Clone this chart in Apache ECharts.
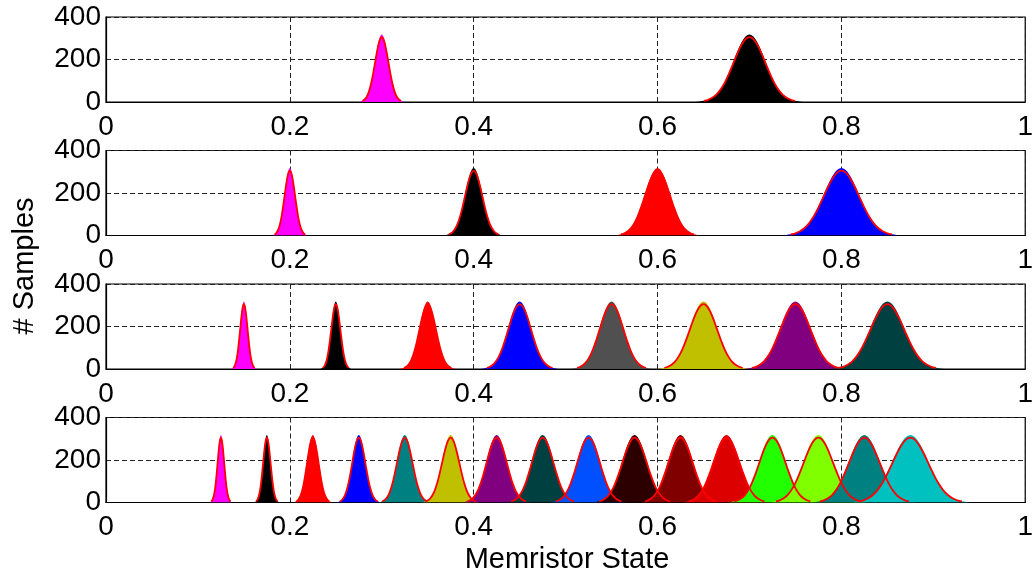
<!DOCTYPE html>
<html>
<head>
<meta charset="utf-8">
<script src="https://cdn.jsdelivr.net/npm/echarts@6/dist/echarts.min.js"></script>
<style>
html,body{margin:0;padding:0;background:#fff;}
#c{width:1036px;height:575px;}
</style>
</head>
<body>
<div id="c"></div>
<script>
// ---- data ----
// peak centres (memristor state) and half-base widths per subplot
const centers1 = [0.3, 0.7];
const widths1  = [0.019, 0.045];
const centers2 = [0.2, 0.4, 0.6, 0.8];
const widths2  = [0.015, 0.0246, 0.036, 0.050];
const centers3 = [0.15, 0.25, 0.35, 0.45, 0.55, 0.65, 0.75, 0.85];
const widths3  = [0.0106, 0.013, 0.0234, 0.0324, 0.034, 0.0387, 0.043, 0.048];
const centers4 = [0.125, 0.175, 0.225, 0.275, 0.325, 0.375, 0.425, 0.475,
                  0.525, 0.575, 0.625, 0.675, 0.725, 0.775, 0.825, 0.875];
const widths4  = [0.0094, 0.0106, 0.0164, 0.0187, 0.0222, 0.0246, 0.029, 0.031,
                  0.0324, 0.035, 0.035, 0.0375, 0.0375, 0.042, 0.044, 0.051];
// peak heights (# samples)
const histPeak = 318;
const fitPeak = 305;
// shape of a peak: relative height at offsets (in half-base units)
const histOffsets = [-1.3, -1.2, -1.1, -1, -0.9, -0.8, -0.7, -0.6, -0.5, -0.4, -0.3, -0.2, -0.1, 0,
                     0.1, 0.2, 0.3, 0.4, 0.5, 0.6, 0.7, 0.8, 0.9, 1, 1.1, 1.2, 1.3];
const histProfile = [0, 0.008, 0.017, 0.034, 0.065, 0.115, 0.191, 0.296, 0.43, 0.582, 0.737, 0.873, 0.967, 1,
                     0.967, 0.873, 0.737, 0.582, 0.43, 0.296, 0.191, 0.115, 0.065, 0.034, 0.017, 0.008, 0];
const fitOffsets = [-1.1, -1, -0.9, -0.8, -0.7, -0.6, -0.5, -0.4, -0.3, -0.2, -0.1, 0,
                    0.1, 0.2, 0.3, 0.4, 0.5, 0.6, 0.7, 0.8, 0.9, 1, 1.1];
const fitProfile = [0.017, 0.034, 0.065, 0.115, 0.191, 0.296, 0.43, 0.582, 0.737, 0.873, 0.967, 1,
                    0.967, 0.873, 0.737, 0.582, 0.43, 0.296, 0.191, 0.115, 0.065, 0.034, 0.017];
// axis ticks
const xTicks = [0, 0.2, 0.4, 0.6, 0.8, 1];
const yTicks = [0, 200, 400];

// ---- styles ----
const colors1 = ['#FF00FF', '#000000'];
const colors2 = ['#FF00FF', '#000000', '#FF0000', '#0000FF'];
const colors3 = ['#FF00FF', '#000000', '#FF0000', '#0000FF', '#505050', '#C0C000', '#800080', '#004040'];
const colors4 = ['#FF00FF', '#000000', '#FF0000', '#0000FF', '#008080', '#C0C000', '#800080', '#004040',
                 '#0050FF', '#2C0000', '#800000', '#DD0000', '#22FF00', '#80FF00', '#008080', '#00C0C0'];

const panels = [
  {c: centers1, w: widths1, col: colors1},
  {c: centers2, w: widths2, col: colors2},
  {c: centers3, w: widths3, col: colors3},
  {c: centers4, w: widths4, col: colors4}
];
const tops = [17, 150.5, 284, 417.5];
const FONT = 'Liberation Sans, Arial, sans-serif';

const grids = [], xAxes = [], yAxes = [], series = [];
panels.forEach((p, g) => {
  grids.push({left: 106, width: 923, top: tops[g], height: 85, show: true,
              borderColor: '#000', borderWidth: 1.2, backgroundColor: '#fff'});
  xAxes.push({type: 'value', gridIndex: g, min: xTicks[0], max: xTicks[xTicks.length - 1],
              interval: xTicks[1] - xTicks[0],
              axisLine: {show: true, lineStyle: {color: '#000', width: 1.2}},
              axisTick: {show: false},
              axisLabel: {color: '#000', fontSize: 28, fontFamily: FONT, margin: 11,
                          formatter: v => String(+v.toFixed(1))},
              splitLine: {show: true, lineStyle: {color: '#222', type: [5, 3], width: 1}}});
  yAxes.push({type: 'value', gridIndex: g, min: yTicks[0], max: yTicks[yTicks.length - 1],
              interval: yTicks[1] - yTicks[0],
              axisLine: {show: true, lineStyle: {color: '#000', width: 1.2}},
              axisTick: {show: false},
              axisLabel: {color: '#000', fontSize: 28, fontFamily: FONT, margin: 5},
              splitLine: {show: true, lineStyle: {color: '#222', type: [5, 3], width: 1}}});
  p.c.forEach((c, i) => {
    const w = p.w[i];
    series.push({
      type: 'line', xAxisIndex: g, yAxisIndex: g, silent: true, animation: false,
      symbol: 'none', smooth: 0.3, z: 2,
      data: histOffsets.map((o, k) => [c + o * w, histProfile[k] * histPeak]),
      lineStyle: {width: 0, color: p.col[i]},
      areaStyle: {color: p.col[i], opacity: 1}
    });
    series.push({
      type: 'line', xAxisIndex: g, yAxisIndex: g, silent: true, animation: false,
      symbol: 'none', smooth: 0.3, z: 2,
      data: fitOffsets.map((o, k) => [c + o * w, fitProfile[k] * fitPeak]),
      lineStyle: {width: 1.8, color: '#FF0000'}
    });
  });
});

const chart = echarts.init(document.getElementById('c'), null, {renderer: 'canvas'});
chart.setOption({
  backgroundColor: '#fff',
  animation: false,
  grid: grids,
  xAxis: xAxes,
  yAxis: yAxes,
  series: series,
  graphic: [
    {type: 'text', x: 567, y: 560,
     style: {text: 'Memristor State', font: '29px ' + FONT, fill: '#000',
             textAlign: 'center', textVerticalAlign: 'middle'}},
    {type: 'text', x: 25, y: 266, rotation: Math.PI / 2,
     style: {text: '# Samples', font: '29px ' + FONT, fill: '#000',
             textAlign: 'center', textVerticalAlign: 'middle'}}
  ]
});
</script>
</body>
</html>
